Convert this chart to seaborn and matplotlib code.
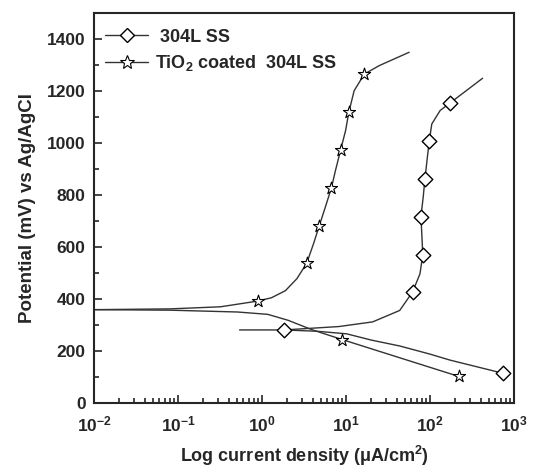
import matplotlib
matplotlib.use("Agg")
import matplotlib.pyplot as plt
import numpy as np
import pandas as pd
import seaborn as sns
from matplotlib.lines import Line2D
from matplotlib.ticker import MultipleLocator, LogLocator, NullFormatter

# Polarisation curves (current in uA/cm2, potential in mV)
coated_anodic_i = [0.01, 0.08, 0.32, 0.89, 1.3, 1.9, 2.6, 3.41, 4.10, 4.80, 5.67, 6.70, 7.49, 8.61, 9.89, 10.8, 12.5, 16.5, 25.0, 56.5]
coated_anodic_e = [359, 362, 370, 392, 405, 432, 478, 538, 612, 681, 753, 827, 894, 972, 1048, 1118, 1201, 1265, 1298, 1349]
coated_cathodic_i = [0.01, 0.08, 0.51, 1.17, 2.05, 3.92, 9.0, 221]
coated_cathodic_e = [359, 357, 350, 341, 318, 282, 244, 102]

ss_anodic_i = [0.54, 1.83, 8.2, 20.8, 43.6, 62, 76, 82, 80, 78, 83, 87, 93, 98, 105, 132, 175, 423]
ss_anodic_e = [281, 281, 294, 312, 356, 427, 497, 571, 645, 717, 792, 861, 945, 1007, 1073, 1125, 1155, 1249]
ss_cathodic_i = [1.83, 4.5, 10.2, 20, 44, 100, 173, 747]
ss_cathodic_e = [281, 276, 266, 242, 219, 188, 165, 114]

# marker positions
ss_mark_i = [1.83, 62, 82, 78, 87, 98, 175, 747]
ss_mark_e = [281, 427, 571, 717, 861, 1007, 1155, 114]
coated_mark_i = [0.89, 3.41, 4.80, 6.70, 8.61, 10.8, 16.5, 9.0, 221]
coated_mark_e = [392, 538, 681, 827, 972, 1118, 1265, 244, 102]

xtick_vals = [1e-2, 1e-1, 1e0, 1e1, 1e2, 1e3]
xtick_labels = ["$10^{-2}$", "$10^{-1}$", "$10^{0}$", "$10^{1}$", "$10^{2}$", "$10^{3}$"]
ytick_vals = [0, 200, 400, 600, 800, 1000, 1200, 1400]

sns.set_style("ticks")
plt.rcParams["font.family"] = ["Liberation Sans", "DejaVu Sans"]
plt.rcParams["font.weight"] = "bold"
plt.rcParams["mathtext.fontset"] = "custom"
plt.rcParams["mathtext.rm"] = "Liberation Sans:bold"
plt.rcParams["mathtext.it"] = "Liberation Sans:bold"
plt.rcParams["mathtext.bf"] = "Liberation Sans:bold"
plt.rcParams["mathtext.default"] = "rm"

fig = plt.figure(figsize=(5.33, 4.67), dpi=100)
ax = fig.add_axes([94 / 533, 64 / 467, 420 / 533, 390 / 467])

line_col = "#333333"
branches = [
    (coated_anodic_i, coated_anodic_e),
    (coated_cathodic_i, coated_cathodic_e),
    (ss_anodic_i, ss_anodic_e),
    (ss_cathodic_i, ss_cathodic_e),
]
for bi, be in branches:
    df = pd.DataFrame({"i": bi, "e": be})
    sns.lineplot(data=df, x="i", y="e", sort=False, estimator=None,
                 color=line_col, lw=1.0, ax=ax)

ax.scatter(ss_mark_i, ss_mark_e, marker="D", s=55, facecolor="white",
           edgecolor="black", linewidth=1.0, zorder=5)
ax.scatter(coated_mark_i, coated_mark_e, marker="*", s=85, facecolor="white",
           edgecolor="black", linewidth=0.8, zorder=5)

ax.set_xscale("log")
ax.set_xlim(1e-2, 1e3)
ax.set_ylim(0, 1500)
ax.set_xticks(xtick_vals)
ax.set_xticklabels(xtick_labels)
ax.xaxis.set_minor_locator(LogLocator(base=10, subs=np.arange(2, 10), numticks=20))
ax.xaxis.set_minor_formatter(NullFormatter())
ax.set_yticks(ytick_vals)
ax.yaxis.set_minor_locator(MultipleLocator(100))

ax.tick_params(which="both", direction="in", top=False, right=False, width=1.2)
ax.tick_params(which="major", length=6, labelsize=12.5)
ax.tick_params(axis="y", which="major", pad=6)
ax.tick_params(axis="x", which="major", pad=8)
ax.tick_params(which="minor", length=3.5)
for s in ax.spines.values():
    s.set_linewidth(1.5)
    s.set_visible(True)

ax.set_xlabel("Log current density (μA/cm$^{2}$)", fontsize=13, fontweight="bold", labelpad=7)
ax.set_ylabel("Potential (mV) vs Ag/AgCl", fontsize=13.5, fontweight="bold", labelpad=8)

handles = [
    Line2D([0], [0], color=line_col, lw=1.0, marker="D", markersize=7.5,
           markerfacecolor="white", markeredgecolor="black"),
    Line2D([0], [0], color=line_col, lw=1.0, marker="*", markersize=10,
           markerfacecolor="white", markeredgecolor="black", markeredgewidth=0.8),
]
ax.legend(handles, [" 304L SS", "TiO$_2$ coated  304L SS"], loc="upper left",
          frameon=False, fontsize=13, handlelength=2.4, handletextpad=0.4,
          labelspacing=0.42, borderaxespad=0.2, bbox_to_anchor=(0.0, 0.988))

fig.savefig("out.png", dpi=100)
